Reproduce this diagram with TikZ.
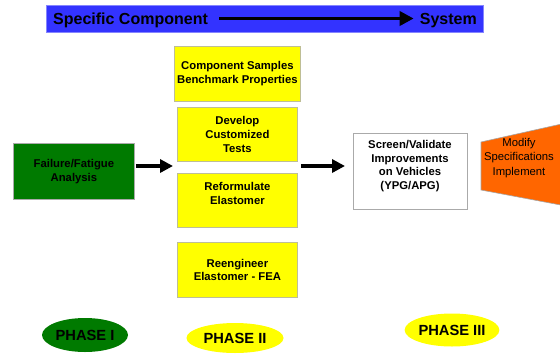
\documentclass[tikz,border=0pt]{standalone}
\usepackage{fontspec}
\setmainfont{Liberation Sans}
\usetikzlibrary{arrows.meta,shapes.geometric}
\definecolor{bannerblue}{RGB}{51,51,255}
\definecolor{dgreen}{RGB}{0,122,0}
\definecolor{yel}{RGB}{255,255,0}
\definecolor{org}{RGB}{255,102,0}
\definecolor{yedge}{RGB}{190,190,150}
\definecolor{gedge}{RGB}{170,170,170}
\begin{document}
\begin{tikzpicture}[x=1pt,y=-1pt,
  lbl/.style={font=\fontsize{11.3}{13.8}\selectfont\bfseries, align=center},
  box/.style={draw=gedge, line width=0.8pt, inner sep=0pt, anchor=north west},
  ybox/.style={box, draw=yedge, fill=yel, lbl},
  fat/.style={line width=4pt, -{Triangle[length=13pt,width=13pt]}},
  phase/.style={ellipse, inner sep=0pt, font=\fontsize{14.7}{16}\selectfont\bfseries},
  banner/.style={font=\fontsize{16}{18}\selectfont\bfseries, inner sep=0pt}
]
\useasboundingbox (0,0) rectangle (560,354);

% banner
\node[draw=bannerblue!60, fill=bannerblue, inner sep=0pt, anchor=north west,
      minimum width=437pt, minimum height=27pt] (ban) at (46,5) {};
\node[banner, anchor=base west] (spec) at (53,24.5) {Specific Component};
\node[banner, anchor=base east] (sys) at (477,24.5) {System};
\coordinate (barr) at (0,18.5);
\draw[line width=3.5pt, -{Triangle[length=14pt,width=14pt]}]
  ([xshift=11pt]spec.east |- barr) -- ([xshift=-6pt]sys.west |- barr);

% left box
\node[box, fill=dgreen, lbl, minimum width=121pt, minimum height=56pt] (fail) at (13,143)
  {Failure/Fatigue\\Analysis};

% yellow column
\node[ybox, minimum width=126pt, minimum height=55pt] (b1) at (174,46)
  {Component Samples\\Benchmark Properties};
\node[ybox, minimum width=120pt, minimum height=54pt] (b2) at (177,107)
  {Develop\\Customized\\Tests};
\node[ybox, minimum width=120pt, minimum height=54pt] (b3) at (177,173)
  {Reformulate\\Elastomer\\\mbox{}};
\node[ybox, minimum width=120pt, minimum height=55pt] (b4) at (177,242)
  {Reengineer\\Elastomer - FEA};

% white box
\node[box, fill=white, minimum width=114pt, minimum height=76pt] (scr) at (353,133) {};
\node[lbl, inner sep=0pt] (scrt) at (410,166)
  {Screen/Validate\\Improvements\\on Vehicles\\(YPG/APG)};

% orange trapezoid
\draw[draw=gray!70, fill=org, line width=0.6pt]
  (481,142) -- (566,123) -- (566,206) -- (481,190) -- cycle;
\node[font=\fontsize{11.3}{14.5}\selectfont, align=center, inner sep=0pt] (mod) at (519,158)
  {Modify\\Specifications\\Implement};

% arrows
\coordinate (a1e) at (173,166);
\coordinate (a2e) at (345,166);
\draw[fat] ([xshift=1pt]fail.east |- a1e) -- (a1e);
\draw[fat] ([xshift=3pt]b2.east |- a2e) -- (a2e);

% phases
\node[phase, fill=dgreen, minimum width=86pt, minimum height=34pt] (p1) at (85,335) {PHASE I};
\node[phase, fill=yel, minimum width=97pt, minimum height=30pt] (p2) at (235,338) {PHASE II};
\node[phase, fill=yel, minimum width=86pt, minimum height=33pt] (p3) at (452,330) {PHASE III};
\end{tikzpicture}
\end{document}
